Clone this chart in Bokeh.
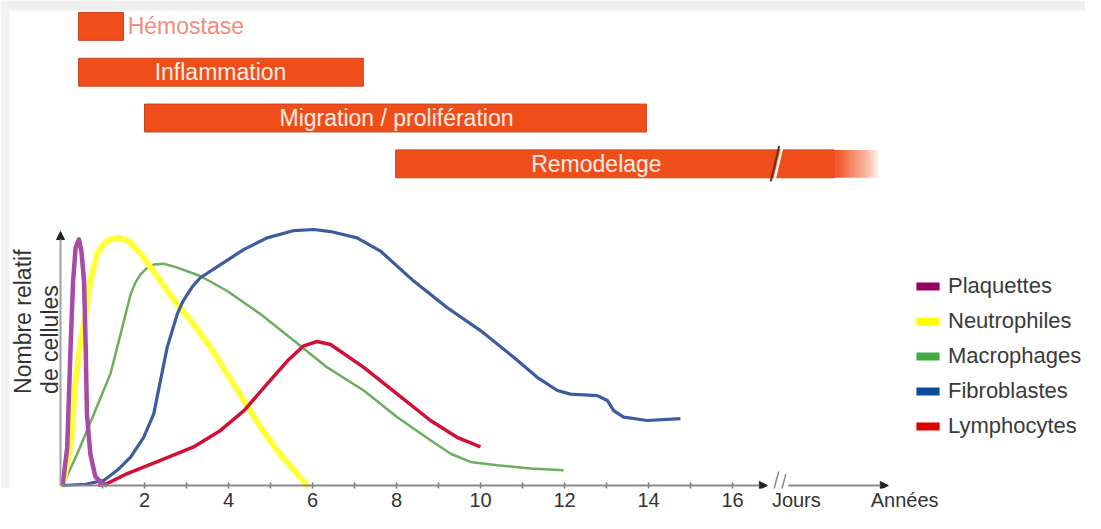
import numpy as np
from bokeh.plotting import figure
from bokeh.models import (Range1d, LinearAxis, FixedTicker, Arrow, NormalHead, BoxAnnotation,
                          Label, Legend, LegendItem, ColumnDataSource)
from bokeh.core.properties import value
from bokeh.embed import file_html
from bokeh.resources import INLINE

# ---------------- data ----------------
phase_names = ["Hémostase", "Inflammation", "Migration / prolifération", "Remodelage"]
phase_start = [0.43, 0.43, 2.0, 7.98]
phase_end = [1.5, 7.21, 13.95, 19.52]
phase_label_x = [1.6, 3.81, 8.0, 12.76]

day_ticks = list(range(1, 17))
day_labels = [2, 4, 6, 8, 10, 12, 14, 16]
unit_labels = ["Jours", "Années"]
unit_label_pos = [17.52, 20.1]
axis_break_day = 17.08
days_axis_end = 16.83
years_axis = [17.33, 19.71]

series_names = ["Plaquettes", "Neutrophiles", "Macrophages", "Fibroblastes", "Lymphocytes"]

plaquettes_x = [0.05, 0.16, 0.24, 0.3, 0.36, 0.44, 0.5, 0.56, 0.6, 0.63, 0.71, 0.83, 0.99, 1.11]
plaquettes_y = [0, 15, 54.5, 80.5, 93.7, 96.9, 92, 80.5, 54.5, 28, 12.5, 3.5, 0.8, 0]

neutro_x = [0.05, 0.24, 0.36, 0.48, 0.6, 0.71, 0.87, 1.0, 1.11, 1.25, 1.39, 1.53, 1.67, 1.98,
            2.38, 2.78, 3.17, 3.57, 3.97, 4.37, 4.76, 5.16, 5.56, 5.87]
neutro_y = [0, 15.3, 41, 57, 67.5, 80.5, 91, 94.5, 96.2, 97.2, 97.5, 96.8, 95.6, 89.7,
            80.5, 71.4, 63.5, 54.4, 43.9, 33.5, 23, 13.8, 6, 0]

macro_x = [0.05, 0.4, 0.79, 1.19, 1.43, 1.67, 1.78, 1.9, 2.05, 2.22, 2.46, 2.78, 3.33, 3.97,
           4.76, 5.56, 6.35, 7.22, 8.02, 8.81, 9.29, 9.76, 10.4, 11.19, 11.98]
macro_y = [0, 12.5, 28, 44, 59.6, 75.3, 79.8, 83, 85.5, 87, 87.3, 85.8, 82.5, 76.6,
           67.5, 57, 46.5, 37.4, 26.9, 17.8, 12.5, 9.3, 8, 6.7, 6]

fibro_x = [0.05, 0.6, 1.03, 1.35, 1.67, 1.98, 2.22, 2.38, 2.54, 2.78, 2.9, 3.02, 3.15, 3.33,
           3.81, 4.37, 4.92, 5.56, 6.03, 6.43, 7.06, 7.62, 8.41, 9.21, 10.0, 10.79, 11.35,
           11.83, 12.14, 12.78, 13.02, 13.17, 13.41, 13.97, 14.76]
fibro_y = [0, 0.5, 2, 6, 11.2, 19, 28.2, 41.3, 54.4, 67.5, 72, 75.3, 78.5, 81.8,
           87, 93, 97.5, 100.4, 100.8, 100, 97.5, 92.3, 80.5, 70, 61, 50.5, 42.6,
           37.4, 36, 35.4, 33.5, 29.5, 26.9, 25.6, 26.3]

lympho_x = [0.9, 1.11, 1.59, 2.38, 3.17, 3.81, 4.37, 4.92, 5.4, 5.79, 6.11, 6.43, 7.22, 8.02,
            8.81, 9.44, 10.0]
lympho_y = [0, 0.8, 4.7, 9.9, 15.2, 21.7, 29.5, 40, 49, 55, 56.7, 55.5, 46.5, 36,
            25.6, 19, 15.2]

y_axis_top = 100

# ---------------- layout / style ----------------
FONT = value("Liberation Sans")
W, H = 1085, 513
PX_PER_DAY = 42.0
ORIGIN_X_PX = 60.0          # x pixel of day 0
BOTTOM = 23                 # space below the frame for the tick labels
PX_PER_UNIT = 2.55
ORIGIN_Y_PX = 3.0           # day axis sits 3px above the frame bottom
x_start = -ORIGIN_X_PX / PX_PER_DAY
x_end = x_start + W / PX_PER_DAY
frame_h = H - BOTTOM
y_start = -ORIGIN_Y_PX / PX_PER_UNIT
y_end = y_start + frame_h / PX_PER_UNIT
AXIS_PX = frame_h - ORIGIN_Y_PX   # pixel row of value 0


def yval(px):
    return (AXIS_PX - px) / PX_PER_UNIT


def xval(px):
    return (px - ORIGIN_X_PX) / PX_PER_DAY


p = figure(width=W, height=H, x_range=Range1d(x_start, x_end), y_range=Range1d(y_start, y_end),
           output_backend="svg", toolbar_location=None, x_axis_location=None, y_axis_location=None,
           min_border_left=0, min_border_right=0, min_border_top=0, min_border_bottom=BOTTOM)
p.outline_line_color = None
p.grid.visible = False
p.background_fill_color = "white"
p.border_fill_color = "white"

# light grey page frame of the original picture
p.add_layout(BoxAnnotation(bottom=yval(10), fill_color="#EFEFEF", fill_alpha=1, line_color=None,
                           level="underlay"))
p.add_layout(BoxAnnotation(right=xval(9), fill_color="#F2F2F2", fill_alpha=1, line_color=None,
                           level="underlay"))

# ---- phase bars ----
def row_vals(i):
    top_px = 12 + 46 * i
    return yval(top_px), yval(top_px + 28)


BAR = "#EF4E1B"
FADE = 1.1
tops, bots, rights = [], [], []
for i, e in enumerate(phase_end):
    t, b = row_vals(i)
    tops.append(t); bots.append(b)
    rights.append(e - FADE if i == len(phase_end) - 1 else e)
p.quad(left=phase_start, right=rights, top=tops, bottom=bots,
       fill_color=BAR, line_color="#C9441C", line_width=1)
n = 24
fl = np.linspace(rights[-1], phase_end[-1], n + 1)
p.quad(left=fl[:-1], right=fl[1:] + 0.005, top=[tops[-1]] * n, bottom=[bots[-1]] * n,
       fill_color=BAR, fill_alpha=list(np.linspace(1, 0, n + 1)[1:] ** 0.8), line_color=None)
bt, bb = tops[-1] + 1.5, bots[-1] - 1.5
p.segment(x0=[axis_break_day - 0.17], y0=[bb], x1=[axis_break_day + 0.03], y1=[bt],
          line_color="#7a2a12", line_width=2)
p.segment(x0=[axis_break_day - 0.09], y0=[bb], x1=[axis_break_day + 0.11], y1=[bt],
          line_color="white", line_width=2.5)

src_in = ColumnDataSource(dict(x=phase_label_x[1:], y=[(t + b) / 2 for t, b in zip(tops[1:], bots[1:])],
                               text=phase_names[1:]))
p.text(x="x", y="y", text="text", source=src_in, text_align="center", text_baseline="middle",
       text_font=FONT, text_font_size="23px", text_color="#FFEEE6")
p.text(x=[phase_label_x[0]], y=[(tops[0] + bots[0]) / 2], text=[phase_names[0]],
       text_align="left", text_baseline="middle", text_font=FONT, text_font_size="23px",
       text_color="#F28C7A")

# ---- curves ----
p.line(macro_x, macro_y, line_color="#6DAE5E", line_width=2.5, line_join="round")
p.line(neutro_x, neutro_y, line_color="#FFFF3A", line_width=6, line_join="round", line_cap="round")
p.line(fibro_x, fibro_y, line_color="#3B5C9F", line_width=3.2, line_join="round")
p.line(lympho_x, lympho_y, line_color="#D01038", line_width=3.5, line_join="round")
p.line(plaquettes_x, plaquettes_y, line_color="#A84AA8", line_width=4.5, line_join="round")

# ---- axes ----
head = dict(size=8, fill_color="#222222", line_color="#222222")
p.add_layout(Arrow(end=NormalHead(**head), x_start=0, y_start=0, x_end=0, y_end=y_axis_top,
                   line_color="#9d9dab", line_width=2))
p.add_layout(Arrow(end=NormalHead(**head), x_start=0, y_start=0, x_end=days_axis_end, y_end=0,
                   line_color="#8a8a8a", line_width=2))
p.add_layout(Arrow(end=NormalHead(**head), x_start=years_axis[0], y_start=0, x_end=years_axis[1],
                   y_end=0, line_color="#8a8a8a", line_width=2))
p.segment(x0=[axis_break_day - 0.15, axis_break_day + 0.02], y0=[-5, -6],
          x1=[axis_break_day + 0.02, axis_break_day + 0.19], y1=[5.5, 4.5],
          line_color="#8a8a8a", line_width=1.5)

xaxis = LinearAxis(ticker=FixedTicker(ticks=day_labels + unit_label_pos, minor_ticks=day_ticks))
xaxis.axis_line_color = None
xaxis.major_tick_in = 0
xaxis.major_tick_out = 0
xaxis.minor_tick_in = 6
xaxis.minor_tick_out = 0
xaxis.minor_tick_line_color = "#777777"
xaxis.minor_tick_line_width = 1.5
xaxis.major_label_overrides = {float(k): v for k, v in zip(unit_label_pos, unit_labels)}
xaxis.major_label_standoff = 0
xaxis.major_label_text_font = "Liberation Sans"
xaxis.major_label_text_font_size = "20px"
xaxis.major_label_text_color = "#333333"
p.add_layout(xaxis, "below")

for txt, px in [("Nombre relatif", 22), ("de cellules", 49)]:
    p.add_layout(Label(x=xval(px), y=yval(395), text=txt, angle=np.pi / 2, text_align="left",
                       text_baseline="middle", text_font="Liberation Sans",
                       text_font_size="23px", text_color="#333333"))

# ---- legend ----
legend_colors = ["#990066", "#FFFF00", "#44AA44", "#0D4A9E", "#DD0000"]
items = []
nan = np.array([np.nan])
for name, c in zip(series_names, legend_colors):
    r = p.quad(left=nan, right=nan, top=nan, bottom=nan, fill_color=c, line_color=None)
    items.append(LegendItem(label=name, renderers=[r]))
legend = Legend(items=items, location=(913, frame_h - 441), glyph_width=29, glyph_height=10,
                label_standoff=6, spacing=9, padding=0, margin=0,
                label_text_font="Liberation Sans", label_text_font_size="22px",
                label_text_color="#3a3a3a", border_line_color=None, background_fill_alpha=0)
p.add_layout(legend)

open("out.html", "w").write(file_html(p, INLINE))
